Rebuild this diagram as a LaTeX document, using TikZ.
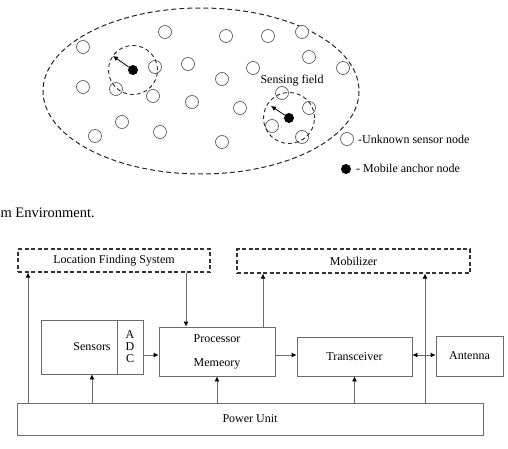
\documentclass[tikz,border=0pt]{standalone}
\usepackage{fontspec}
\setmainfont{Liberation Serif}
\usetikzlibrary{arrows.meta}
\begin{document}
\begin{tikzpicture}[x=1pt,y=-1pt,
  sensor/.style={circle,draw=gray!75!black,line width=0.7pt,minimum size=13pt,inner sep=0pt},
  anchornode/.style={circle,fill=black,minimum size=10pt,inner sep=0pt},
  rangecircle/.style={circle,draw=black!85,dash pattern=on 4pt off 3pt,line width=0.9pt,inner sep=0pt},
  blk/.style={draw=gray!85!black,line width=0.8pt,inner sep=0pt,font=\fontsize{12}{14}\selectfont},
  dblk/.style={draw=black!80,dash pattern=on 4pt off 2.5pt,line width=1.1pt,inner sep=0pt,font=\fontsize{12}{14}\selectfont},
  conn/.style={draw=gray!85!black,line width=0.8pt,-{Latex[black,length=5pt,width=5pt]}},
  biconn/.style={draw=gray!85!black,line width=0.8pt,{Latex[black,length=5pt,width=5pt]}-{Latex[black,length=5pt,width=5pt]}},
  moveto/.style={draw=black,line width=0.8pt,-{Latex[black,length=5pt,width=5pt]}},
  txt/.style={font=\fontsize{12}{14}\selectfont,inner sep=0pt}
]
\useasboundingbox (0,0) rectangle (508,449);

% ---------- sensing field ----------
\draw[black!85,dash pattern=on 5pt off 3pt,line width=1pt] (201,91) ellipse [x radius=158, y radius=83];

\foreach \n/\x/\y in {1/165/32, 2/83/47, 3/226/36, 4/268/36, 5/302/32, 6/155/67,
  7/188/64, 8/253/68, 9/309/57, 10/343/68, 11/83/87, 12/116/89, 13/153/96,
  14/222/79, 15/192/102, 16/240/108, 17/282/93, 18/309/108, 19/272/126,
  20/302/137, 21/122/122, 22/95/136, 23/160/132, 24/222/142}
  \node[sensor,fill=white] (u\n) at (\x,\y) {};

\node[rangecircle,minimum size=49pt] (s1) at (133,70) {};
\node[rangecircle,minimum size=51pt] (s2) at (289,118) {};
\node[anchornode] (a1) at (133,70) {};
\node[anchornode] (a2) at (289,118) {};
\coordinate (e1) at (113,56);
\coordinate (e2) at (271,106);
\draw[moveto] (a1) -- (e1);
\draw[moveto] (a2) -- (e2);

\node[txt] (sf) at (292,81) {Sensing field};

% legend
\node[sensor] (lu) at (347,139) {};
\node[txt,anchor=west] (lut) at (358,139) {-Unknown sensor node};
\node[anchornode] (la) at (346,169) {};
\node[txt,anchor=west] (lat) at (356,168) {- Mobile anchor node};

% caption fragment
\node[inner sep=0pt,anchor=east,font=\fontsize{14.5}{16}\selectfont] (cap) at (95,213) {m Environment.};

% ---------- block diagram ----------
\node[dblk,minimum width=192pt,minimum height=23pt] (lfs) at (114,260.5) {Location Finding System};
\node[dblk,minimum width=233pt,minimum height=24pt] (mob) at (353.5,261) {Mobilizer};

\node[blk,minimum width=102pt,minimum height=54pt] (sens) at (92,347) {Sensors};
\node[blk,minimum width=26pt,minimum height=54pt,align=center,font=\fontsize{12}{12}\selectfont] (adc) at (130,347) {A\\D\\C};
\node[blk,minimum width=116pt,minimum height=49pt,align=center] (proc) at (217,351.5) {Processor\\[10pt]Memeory};
\node[blk,minimum width=115pt,minimum height=39pt] (trx) at (354.5,356.5) {Transceiver};
\node[blk,minimum width=67pt,minimum height=40pt] (ant) at (469.5,356) {Antenna};
\node[blk,minimum width=466pt,minimum height=32pt] (pu) at (250,419) {Power Unit};

\coordinate (row) at (0,355);
\coordinate (lcol) at (28,0);
\coordinate (dcol) at (186,0);
\coordinate (pcol) at (263,0);
\coordinate (mcol) at (425,0);

\draw[conn] (pu.north -| lcol) -- (lfs.south -| lcol);
\draw[conn] (pu.north -| sens.south) -- (sens.south);
\draw[conn] (pu.north -| proc.south) -- (proc.south);
\draw[conn] (pu.north -| trx.south) -- (trx.south);
\draw[conn] (pu.north -| mcol) -- (mob.south -| mcol);
\draw[conn] (lfs.south -| dcol) -- (proc.north -| dcol);
\draw[conn] (proc.north -| pcol) -- (mob.south -| pcol);
\draw[conn] (adc.east |- row) -- (proc.west |- row);
\draw[conn] (proc.east |- row) -- (trx.west |- row);
\draw[biconn] (trx.east |- row) -- (ant.west |- row);
\end{tikzpicture}
\end{document}
